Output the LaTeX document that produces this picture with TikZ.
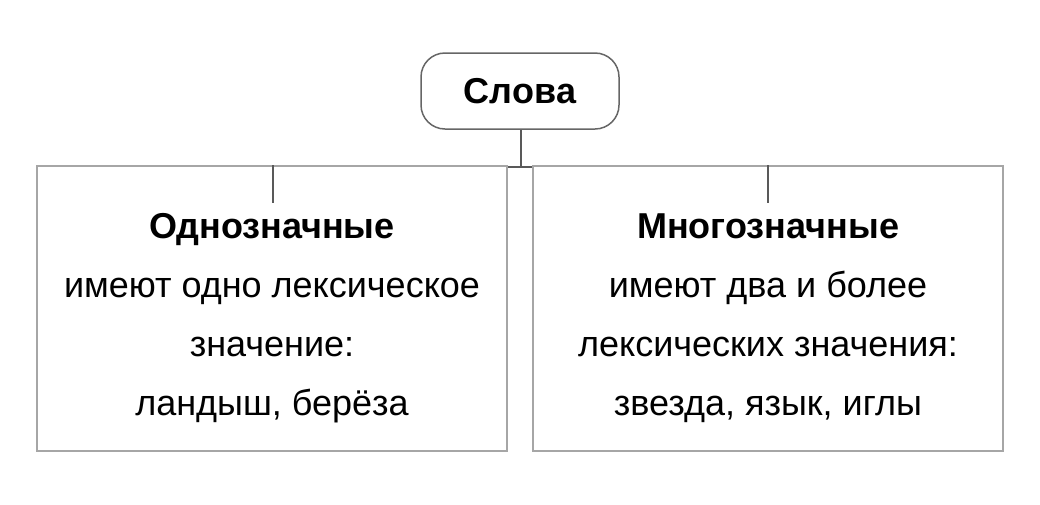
\documentclass[tikz,border=0pt]{standalone}
\usepackage{fontspec}
\setmainfont{Liberation Sans}
\begin{document}
\begin{tikzpicture}[x=1pt,y=-1pt,
  box/.style={draw=black!35,line width=1.5pt,minimum width=470pt,minimum height=285pt,inner sep=0pt},
  conn/.style={draw=black!65,line width=1.5pt},
  txt/.style={align=center,font=\fontsize{36}{59}\selectfont}]
\useasboundingbox (0,0) rectangle (1040,504);
\node[draw=black!60,line width=1.5pt,rounded corners=24pt,minimum width=198pt,minimum height=76pt,font=\fontsize{36}{40}\selectfont\bfseries] (root) at (520,91) {Слова};
\node[box] (L) at (272,308.5) {};
\node[box] (R) at (768,308.5) {};
\node[txt] (Lt) at (272,318) {\textbf{Однозначные}\\имеют одно лексическое\\значение:\\ландыш, берёза};
\node[txt] (Rt) at (768,318) {\textbf{Многозначные}\\имеют два и более\\лексических значения:\\звезда, язык, иглы};
\coordinate (j) at (521,167);
\coordinate (jl) at (508,167);
\coordinate (jr) at (532,167);
\coordinate (tl) at (273,203);
\coordinate (tr) at (768,203);
\draw[conn] (root.south -| j) -- (j);
\draw[conn] (jl) -- (jr);
\draw[conn] (L.north -| tl) -- (tl);
\draw[conn] (R.north -| tr) -- (tr);
\end{tikzpicture}
\end{document}
